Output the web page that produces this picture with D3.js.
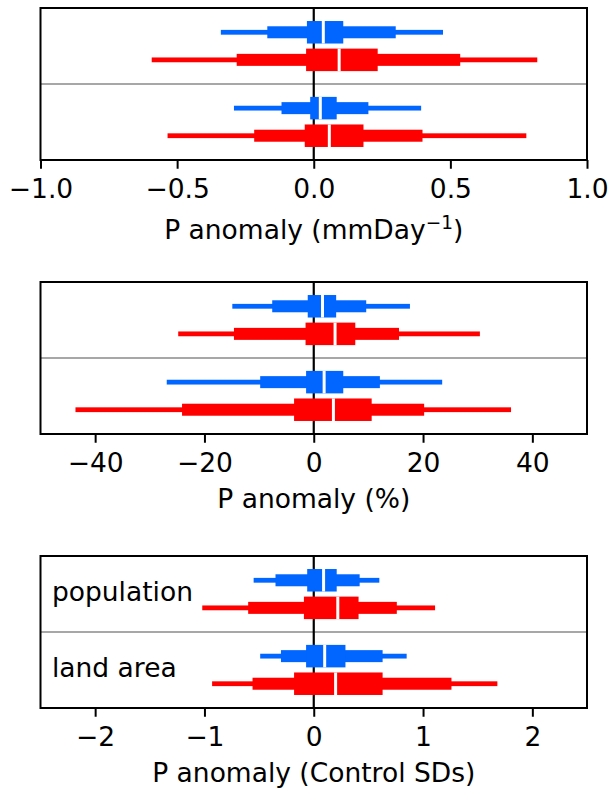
<!DOCTYPE html>
<html><head><meta charset="utf-8">
<script src="https://cdn.jsdelivr.net/npm/d3@7"></script>
<style>body{margin:0;background:#fff}svg{display:block}text{font-family:"DejaVu Sans",sans-serif}</style>
</head><body><svg id="c" width="612" height="790"></svg>
<script>
// group labels (shown in bottom panel)
const groupLabels = ["population", "land area"];
// each entry: [outer low, mid low, inner low, median, inner high, mid high, outer high]
const mmDayBlue = [[-0.34,-0.17,-0.025,0.035,0.108,0.30,0.473],[-0.292,-0.118,-0.013,0.024,0.084,0.200,0.393]];
const mmDayRed  = [[-0.593,-0.282,-0.028,0.093,0.234,0.536,0.818],[-0.535,-0.218,-0.033,0.057,0.182,0.398,0.778]];
const pctBlue = [[-14.9,-7.6,-1.1,1.6,4.1,9.6,17.6],[-26.9,-9.8,-1.4,1.9,5.4,12.1,23.5]];
const pctRed  = [[-24.8,-14.6,-1.5,3.9,7.6,15.6,30.4],[-43.6,-24.1,-3.6,3.6,10.6,20.2,36.1]];
const sdBlue = [[-0.55,-0.35,-0.06,0.09,0.21,0.42,0.60],[-0.49,-0.30,-0.07,0.10,0.29,0.63,0.85]];
const sdRed  = [[-1.02,-0.60,-0.09,0.22,0.41,0.76,1.11],[-0.93,-0.56,-0.18,0.20,0.63,1.26,1.68]];
const mmDayTicks = [-1,-0.5,0,0.5,1];
const pctTicks = [-40,-20,0,20,40];
const sdTicks = [-2,-1,0,1,2];
const mmDayDomain = [-1,1], pctDomain = [-50,50], sdDomain = [-2.5,2.5];
const xLabels = ["P anomaly (mmDay", "P anomaly (%)", "P anomaly (Control SDs)"];

const panels = [
  {blue: mmDayBlue, red: mmDayRed, ticks: mmDayTicks, domain: mmDayDomain, fmt: d3.format(".1f"), label: 0, sup: true, names: false},
  {blue: pctBlue, red: pctRed, ticks: pctTicks, domain: pctDomain, fmt: d3.format("d"), label: 1, sup: false, names: false},
  {blue: sdBlue, red: sdRed, ticks: sdTicks, domain: sdDomain, fmt: d3.format("d"), label: 2, sup: false, names: true}
];

const svg = d3.select("#c");
const X0 = 40.5, X1 = 587, PH = 152;
const tops = [8, 282, 556];
const colBlue = "#0066ff", colRed = "#ff0000";
const thinW = 4.8, medW = 12, thickW = 22.5;
const FS = 26.5;

panels.forEach((p, i) => {
  const top = tops[i], bot = top + PH;
  const x = d3.scaleLinear().domain(p.domain).range([X0, X1]);
  const y = d3.scaleLinear().domain([-0.88, 4.63]).range([top, bot]);
  const g = svg.append("g");
  // separator
  g.append("line").attr("x1", X0).attr("x2", X1).attr("y1", y(1.875)).attr("y2", y(1.875))
    .attr("stroke", "#8a8a8a").attr("stroke-width", 1.3);
  // zero line
  g.append("line").attr("x1", x(0)).attr("x2", x(0)).attr("y1", top).attr("y2", bot)
    .attr("stroke", "#000").attr("stroke-width", 2.2);
  const rows = [];
  [0,1].forEach(gi => {
    rows.push({v: p.blue[gi], pos: gi*2.75, c: colBlue});
    rows.push({v: p.red[gi], pos: gi*2.75 + 1, c: colRed});
  });
  rows.forEach(r => {
    const cy = y(r.pos);
    [[0,6,thinW],[1,5,medW],[2,4,thickW]].forEach(([a,b,w]) => {
      g.append("rect").attr("x", x(r.v[a])).attr("width", x(r.v[b]) - x(r.v[a]))
        .attr("y", cy - w/2).attr("height", w).attr("fill", r.c);
    });
    g.append("line").attr("x1", x(r.v[3])).attr("x2", x(r.v[3]))
      .attr("y1", cy - thickW/2).attr("y2", cy + thickW/2)
      .attr("stroke", "#fff").attr("stroke-width", 3);
  });
  if (p.names) {
    groupLabels.forEach((t, gi) => {
      g.append("text").attr("x", x(p.domain[0] + (p.domain[1]-p.domain[0])*0.021))
        .attr("y", y(gi*2.75 + 0.5) + 7).attr("font-size", FS).attr("fill", "#000").text(t);
    });
  }
  // frame
  g.append("rect").attr("x", X0).attr("y", top).attr("width", X1 - X0).attr("height", PH)
    .attr("fill", "none").attr("stroke", "#000").attr("stroke-width", 2);
  // axis
  const ax = d3.axisBottom(x).tickValues(p.ticks).tickFormat(p.fmt).tickSize(8.75).tickPadding(8.75);
  const ag = g.append("g").attr("transform", `translate(0,${bot})`).call(ax);
  ag.select(".domain").remove();
  ag.selectAll(".tick line").attr("stroke", "#000").attr("stroke-width", 2);
  ag.selectAll(".tick text").attr("font-size", FS).attr("font-family", "DejaVu Sans, sans-serif")
    .attr("fill", "#000").attr("dy", null).attr("y", 37.5);
  // x label
  const lt = g.append("text").attr("x", (X0 + X1)/2).attr("y", bot + (p.sup ? 79 : 74))
    .attr("text-anchor", "middle").attr("font-size", FS).attr("fill", "#000");
  if (p.sup) {
    lt.append("tspan").text(xLabels[p.label]);
    lt.append("tspan").attr("font-size", FS*0.7).attr("dy", -10.5).text("\u22121");
    lt.append("tspan").attr("dy", 10.5).text(")");
  } else {
    lt.text(xLabels[p.label]);
  }
});
</script></body></html>
